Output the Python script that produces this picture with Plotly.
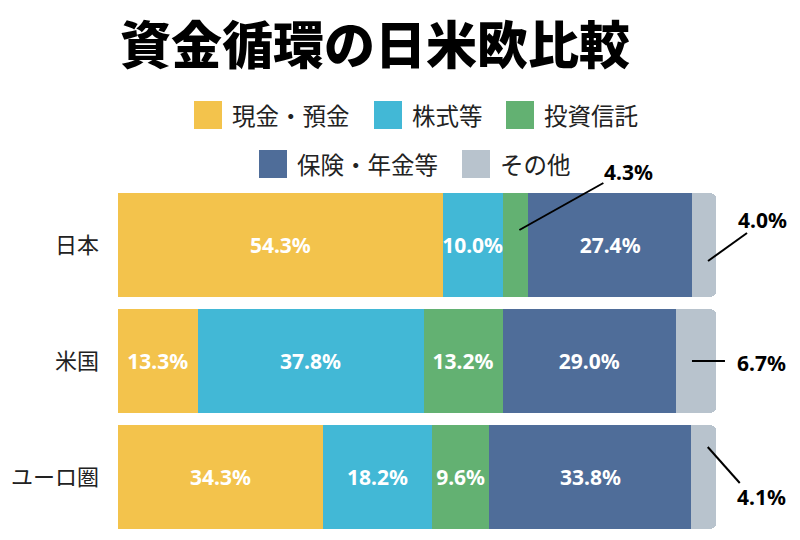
import plotly.graph_objects as go

# ---------------- data ----------------
countries = ["日本", "米国", "ユーロ圏"]
series_names = ["現金・預金", "株式等", "投資信託", "保険・年金等", "その他"]
cash = [54.3, 13.3, 34.3]
stocks = [10.0, 37.8, 18.2]
funds = [4.3, 13.2, 9.6]
insurance = [27.4, 29.0, 33.8]
other = [4.0, 6.7, 4.1]
series_values = [cash, stocks, funds, insurance, other]
title_text = "資金循環の日米欧比較"

# labels drawn outside the bar with a leader line: (country index, series index)
outside_labels = [(0, 2), (0, 4), (1, 4), (2, 4)]

# ---------------- style ----------------
colors = ["#F3C34C", "#42B8D6", "#63B172", "#4F6D99", "#B8C3CD"]
FONT = "Noto Sans, Noto Sans CJK JP, sans-serif"
CJK = "Noto Sans CJK JP, sans-serif"
OFF = 8                       # page body margin
W_FIG, H_FIG = 800 - OFF, 540 - OFF
BAR_L, BAR_R = 118 - OFF, 716 - OFF      # 0% and 100% positions (figure px)
ROW_TOP, ROW_PITCH = 187 - OFF, 116       # top of first category band
L = BAR_L
R = 0
T = 150 - OFF
B = 5
PW, PH = W_FIG - L - R, H_FIG - T - B
UNIT_X = (BAR_R - BAR_L) / 100.0
X_MAX = PW / UNIT_X
Y_TOP = -0.5 - (ROW_TOP - T) / ROW_PITCH
Y_BOT = -0.5 + (H_FIG - B - ROW_TOP) / ROW_PITCH

# leader line styling (pixel offsets relative to the segment centre, +y = up)
leader_style = {
    (0, 2): dict(p0=(4, 15), p1=(88, 62), txt=(113, 73)),
    (0, 4): dict(p0=(4, -16), p1=(43, 12), txt=(58, 25)),
    (1, 4): dict(p0=(-4, 0), p1=(29, 0), txt=(66, -2)),
    (2, 4): dict(p0=(4, 30), p1=(36, -6), txt=(58, -20)),
}

# legend layout (swatch top-left in screen pixels)
legend_pos = [(194, 101), (374, 101), (506, 101), (259, 150), (462, 150)]
SW = 28


def px_x(p):
    return (p - OFF - L) / PW


def px_y(p):
    return (T + PH - (p - OFF)) / PH


fig = go.Figure()
yidx = list(range(len(countries)))
for s, (name, vals, col) in enumerate(zip(series_names, series_values, colors)):
    texts = ["" if (c, s) in outside_labels else f"{v:.1f}%" for c, v in enumerate(vals)]
    fig.add_trace(go.Bar(
        y=yidx, x=vals, name=name, orientation="h",
        marker=dict(color=col, line=dict(width=0)),
        text=texts, textposition="inside", insidetextanchor="middle",
        textfont=dict(family=FONT, size=21, color="white", weight="bold"),
        textangle=0, showlegend=False, hoverinfo="skip",
    ))

shapes = []
annotations = []
for (c, s) in outside_labels:
    base = sum(series_values[k][c] for k in range(s))
    mid = base + series_values[s][c] / 2
    st = leader_style[(c, s)]
    shapes.append(dict(
        type="line", xref="x", yref="y", xsizemode="pixel", ysizemode="pixel",
        xanchor=mid, yanchor=c,
        x0=st["p0"][0], y0=st["p0"][1], x1=st["p1"][0], y1=st["p1"][1],
        line=dict(color="black", width=2),
    ))
    annotations.append(dict(
        x=mid, y=c, xref="x", yref="y", text=f"{series_values[s][c]:.1f}%",
        showarrow=False, xshift=st["txt"][0], yshift=st["txt"][1],
        xanchor="center", yanchor="middle",
        font=dict(family=FONT, size=21, color="black", weight="bold"),
    ))

# manual legend
for name, col, (sx, sy) in zip(series_names, colors, legend_pos):
    shapes.append(dict(
        type="rect", xref="paper", yref="paper",
        x0=px_x(sx), x1=px_x(sx + SW), y0=px_y(sy + SW), y1=px_y(sy),
        fillcolor=col, line=dict(width=0),
    ))
    annotations.append(dict(
        x=px_x(sx + SW + 8), y=px_y(sy + SW / 2), xref="paper", yref="paper",
        text=name, showarrow=False, xanchor="left", yanchor="middle",
        font=dict(family=CJK, size=23.5, color="#222222"),
    ))

fig.update_layout(
    width=W_FIG, height=H_FIG,
    margin=dict(l=L, r=R, t=T, b=B, autoexpand=False),
    paper_bgcolor="white", plot_bgcolor="white",
    barmode="stack", bargap=0.11, barcornerradius=5,
    uniformtext=dict(minsize=21, mode="show"),
    title=dict(text=title_text, x=(375 - OFF) / W_FIG, y=1 - (46 - OFF) / H_FIG,
               xanchor="center", yanchor="middle", xref="container", yref="container",
               font=dict(family=CJK, size=51, color="black", weight=900)),
    xaxis=dict(range=[0, X_MAX], visible=False, fixedrange=True),
    yaxis=dict(range=[Y_BOT, Y_TOP], tickvals=yidx, ticktext=countries,
               showgrid=False, zeroline=False, showline=False, ticks="",
               ticklabelstandoff=18,
               tickfont=dict(family=CJK, size=22, color="#222222")),
    shapes=shapes, annotations=annotations,
    showlegend=False,
)

fig.write_html("out.html")
